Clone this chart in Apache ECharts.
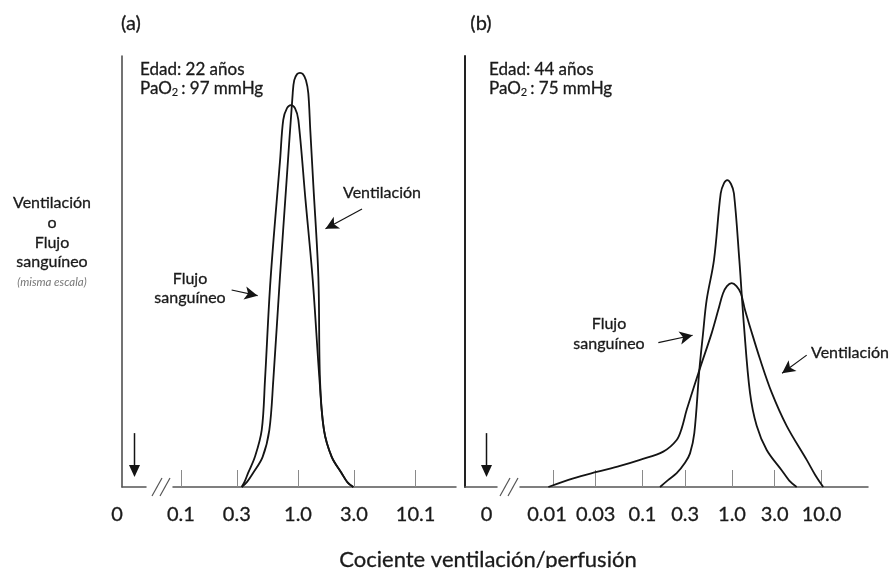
<!DOCTYPE html>
<html>
<head>
<meta charset="utf-8">
<script src="https://cdn.jsdelivr.net/npm/echarts@6/dist/echarts.min.js"></script>
<style>html,body{margin:0;padding:0;background:#fff}#c{width:891px;height:568px}</style>
</head>
<body>
<div id="c"></div>
<script>
// ---------- data (x = log10 of ventilation/perfusion ratio, y = relative height 0..100) ----------
const aTickValues = [0.1, 0.3, 1, 3, 10.1];
const aTickLabels = ['0.1', '0.3', '1.0', '3.0', '10.1'];
const bTickValues = [0.01, 0.03, 0.1, 0.3, 1, 3, 10];
const bTickLabels = ['0.01', '0.03', '0.1', '0.3', '1.0', '3.0', '10.0'];
const zeroLabel = '0';

// Panel (a) – 22 years
const aVentX = [-0.481,-0.435,-0.385,-0.302,-0.245,-0.211,-0.154,-0.100,-0.045,-0.032,-0.008,0.017,0.042,0.068,0.088,0.105,0.131,0.174,0.188,0.222,0.288,0.373,0.425,0.473];
const aVentY = [0,1.2,3.2,7.0,13.2,24.8,48.8,70.1,91.4,94.4,95.8,96.1,95.8,94.4,91.4,82.8,70.1,48.8,24.8,13.2,7.0,3.2,1.0,0];
const aFlowX = [-0.481,-0.455,-0.427,-0.368,-0.310,-0.282,-0.235,-0.153,-0.126,-0.094,-0.060,-0.026,0.003,0.064,0.126,0.184,0.222,0.288,0.373,0.425,0.473];
const aFlowY = [0,1.3,3.2,7.0,13.2,24.8,48.0,75.9,85.2,87.9,88.6,87.9,85.2,66.6,48.0,24.8,13.2,7.0,3.2,1.0,0];

// Panel (b) – 44 years
const bVentX = [-2.052,-1.773,-1.512,-1.251,-1.028,-0.768,-0.618,-0.562,-0.506,-0.365,-0.227,-0.153,-0.101,-0.056,-0.003,0.050,0.100,0.145,0.201,0.313,0.444,0.611,0.835,0.930,1.020];
const bVentY = [0,2.0,3.5,4.9,6.3,8.2,10.9,13.6,17.9,27.1,35.7,41.1,44.9,46.6,47.3,46.6,44.9,41.1,37.2,29.7,21.9,14.2,6.3,2.8,0];
const bFlowX = [-0.804,-0.715,-0.618,-0.525,-0.469,-0.421,-0.365,-0.324,-0.283,-0.201,-0.126,-0.089,-0.053,-0.011,0.022,0.082,0.134,0.201,0.276,0.388,0.555,0.640,0.723];
const bFlowY = [0,1.6,3.2,5.6,7.8,12.5,27.1,35.5,43.4,52.7,68.1,70.5,71.2,70.3,68.1,52.7,37.4,21.9,14.2,8.6,3.9,1.5,0];

// annotation arrows [x1,y1,x2,y2] in data units
const aVentArrow = [0.547, 64.5, 0.235, 59.9];
const aFlowArrow = [-0.567, 45.7, -0.345, 44.4];
const bVentArrow = [0.835, 30.6, 0.560, 26.4];
const bFlowArrow = [-0.823, 33.5, -0.440, 35.2];
const zeroArrowY = [12.5, 3.7];   // "zero" arrow: shaft top, arrow-head centre

// ---------- chart ----------
const FONT = 'Lato, "Open Sans", "DejaVu Sans", sans-serif';
const INK = '#141414';
const TXT = '#1a1a1a';
const SW = 0.3;
const zip = (xs, ys) => xs.map((x, i) => [x, ys[i]]);
const lg = v => Math.log10(v);

function labelFmt(values, labels, shiftFirst) {
  return function (v) {
    const i = values.findIndex(t => Math.abs(lg(t) - v) < 1e-6);
    if (i < 0) return '';
    return (i === 0 && shiftFirst) ? '{s|' + labels[i] + '}' : labels[i];
  };
}
function arrowLine(a) {
  return {
    silent: true,
    symbol: ['none', 'arrow'],
    symbolSize: [10, 13],
    label: { show: false },
    emphasis: { disabled: true },
    lineStyle: { color: INK, width: 1.2, type: 'solid' },
    data: [[{ coord: [a[0], a[1]] }, { coord: [a[2], a[3]] }]]
  };
}
function curve(xi, data, arrow) {
  return {
    type: 'line', xAxisIndex: xi, yAxisIndex: xi, data: data,
    smooth: 0.35, symbol: 'none', silent: true,
    lineStyle: { color: INK, width: 1.8 },
    markLine: arrow ? arrowLine(arrow) : undefined
  };
}
function zeroArrow(xi, pos) {
  return {
    type: 'line', xAxisIndex: xi, yAxisIndex: xi, silent: true, clip: false,
    lineStyle: { color: INK, width: 1.5 },
    itemStyle: { color: INK },
    data: [
      { value: [pos, zeroArrowY[0]], symbol: 'none' },
      { value: [pos, zeroArrowY[1]], symbol: 'triangle', symbolRotate: 180, symbolSize: [11, 12] }
    ]
  };
}
const axLabelStyle = { fontSize: 20, color: TXT, fontFamily: FONT, textBorderColor: TXT, textBorderWidth: SW };
function zeroXAxis(grid, pos, pad) {
  return {
    gridIndex: grid, type: 'value', min: 0, max: 1,
    axisLine: { show: true, onZero: false, lineStyle: { color: '#555', width: 1.5 } },
    axisTick: { show: false },
    splitLine: { show: false },
    axisLabel: Object.assign({ customValues: [pos], formatter: () => zeroLabel, margin: 18, padding: pad }, axLabelStyle)
  };
}
function mainXAxis(grid, min, max, values, labels, shiftFirst) {
  const ticks = values.map(lg);
  return {
    gridIndex: grid, type: 'value', min: min, max: max,
    axisLine: { show: true, onZero: false, lineStyle: { color: '#555', width: 1.5 } },
    axisTick: { show: true, inside: true, length: 17, customValues: ticks, lineStyle: { color: '#8a8a8a', width: 1 } },
    splitLine: { show: false },
    axisLabel: Object.assign({
      customValues: ticks, formatter: labelFmt(values, labels, shiftFirst), margin: 18,
      rich: { s: Object.assign({ padding: [0, 12, 0, 0] }, axLabelStyle) }
    }, axLabelStyle)
  };
}
function yAx(grid, visible, color, width) {
  return {
    gridIndex: grid, type: 'value', min: 0, max: 100, show: visible,
    axisLine: { show: true, lineStyle: { color: color, width: width } },
    axisTick: { show: false }, axisLabel: { show: false }, splitLine: { show: false }
  };
}
function txt(x, y, text, size, extra) {
  return {
    type: 'text', x: x, y: y, silent: true,
    style: Object.assign({
      text: text, fill: TXT, fontSize: size, fontFamily: FONT,
      stroke: TXT, lineWidth: SW,
      align: 'center', verticalAlign: 'middle'
    }, extra || {})
  };
}
function brk(x0) {
  const s = { stroke: '#555', lineWidth: 1.2 };
  return [
    { type: 'line', silent: true, shape: { x1: x0, y1: 496, x2: x0 + 10, y2: 478 }, style: s },
    { type: 'line', silent: true, shape: { x1: x0 + 8, y1: 496, x2: x0 + 18, y2: 478 }, style: s }
  ];
}
const paRich = {
  sub: { fontSize: 11, fontFamily: FONT, fill: TXT, stroke: TXT, lineWidth: 0.2, verticalAlign: 'bottom', padding: [7, 3, 0, 0] },
  n: { fontSize: 17, fontFamily: FONT, fill: TXT, stroke: TXT, lineWidth: SW }
};

const option = {
  animation: false,
  backgroundColor: '#ffffff',
  grid: [
    { left: 122, top: 56, width: 24, height: 431 },
    { left: 173, top: 56, width: 283, height: 431 },
    { left: 465, top: 56, width: 32, height: 431 },
    { left: 520, top: 56, width: 348, height: 431 }
  ],
  xAxis: [
    zeroXAxis(0, 0.521, [0, 35, 0, 0]),
    mainXAxis(1, -1.068, 1.350, aTickValues, aTickLabels, false),
    zeroXAxis(2, 0.672, [0, 0, 0, 0]),
    mainXAxis(3, -2.369, 1.520, bTickValues, bTickLabels, true)
  ],
  yAxis: [
    yAx(0, true, '#444', 1.5),
    yAx(1, false, '#444', 1.5),
    yAx(2, true, '#222', 2),
    yAx(3, false, '#222', 2)
  ],
  series: [
    zeroArrow(0, 0.521),
    curve(1, zip(aFlowX, aFlowY), aFlowArrow),
    curve(1, zip(aVentX, aVentY), aVentArrow),
    zeroArrow(2, 0.672),
    curve(3, zip(bFlowX, bFlowY), bFlowArrow),
    curve(3, zip(bVentX, bVentY), bVentArrow)
  ],
  graphic: [
    txt(131, 24, '(a)', 20),
    txt(481, 24, '(b)', 20),
    txt(140, 70, 'Edad: 22 años', 17, { align: 'left' }),
    txt(140, 89, '{n|PaO}{sub|2}{n|: 97 mmHg}', 17, { align: 'left', rich: paRich }),
    txt(489, 70, 'Edad: 44 años', 17, { align: 'left' }),
    txt(489, 89, '{n|PaO}{sub|2}{n|: 75 mmHg}', 17, { align: 'left', rich: paRich }),
    txt(52, 232.5, 'Ventilación\no\nFlujo\nsanguíneo', 16, { lineHeight: 19.7 }),
    txt(52, 282, '(misma escala)', 11.5, { fontStyle: 'italic', fill: '#777', stroke: null, lineWidth: 0 }),
    txt(382, 193, 'Ventilación', 16),
    txt(190, 288.5, 'Flujo\nsanguíneo', 16, { lineHeight: 19.5 }),
    txt(609, 334, 'Flujo\nsanguíneo', 16, { lineHeight: 19.5 }),
    txt(850, 353, 'Ventilación', 16),
    txt(488, 560, 'Cociente ventilación/perfusión', 22)
  ].concat(brk(152), brk(500))
};

const chart = echarts.init(document.getElementById('c'), null, { renderer: 'canvas' });
chart.setOption(option);
</script>
</body>
</html>
